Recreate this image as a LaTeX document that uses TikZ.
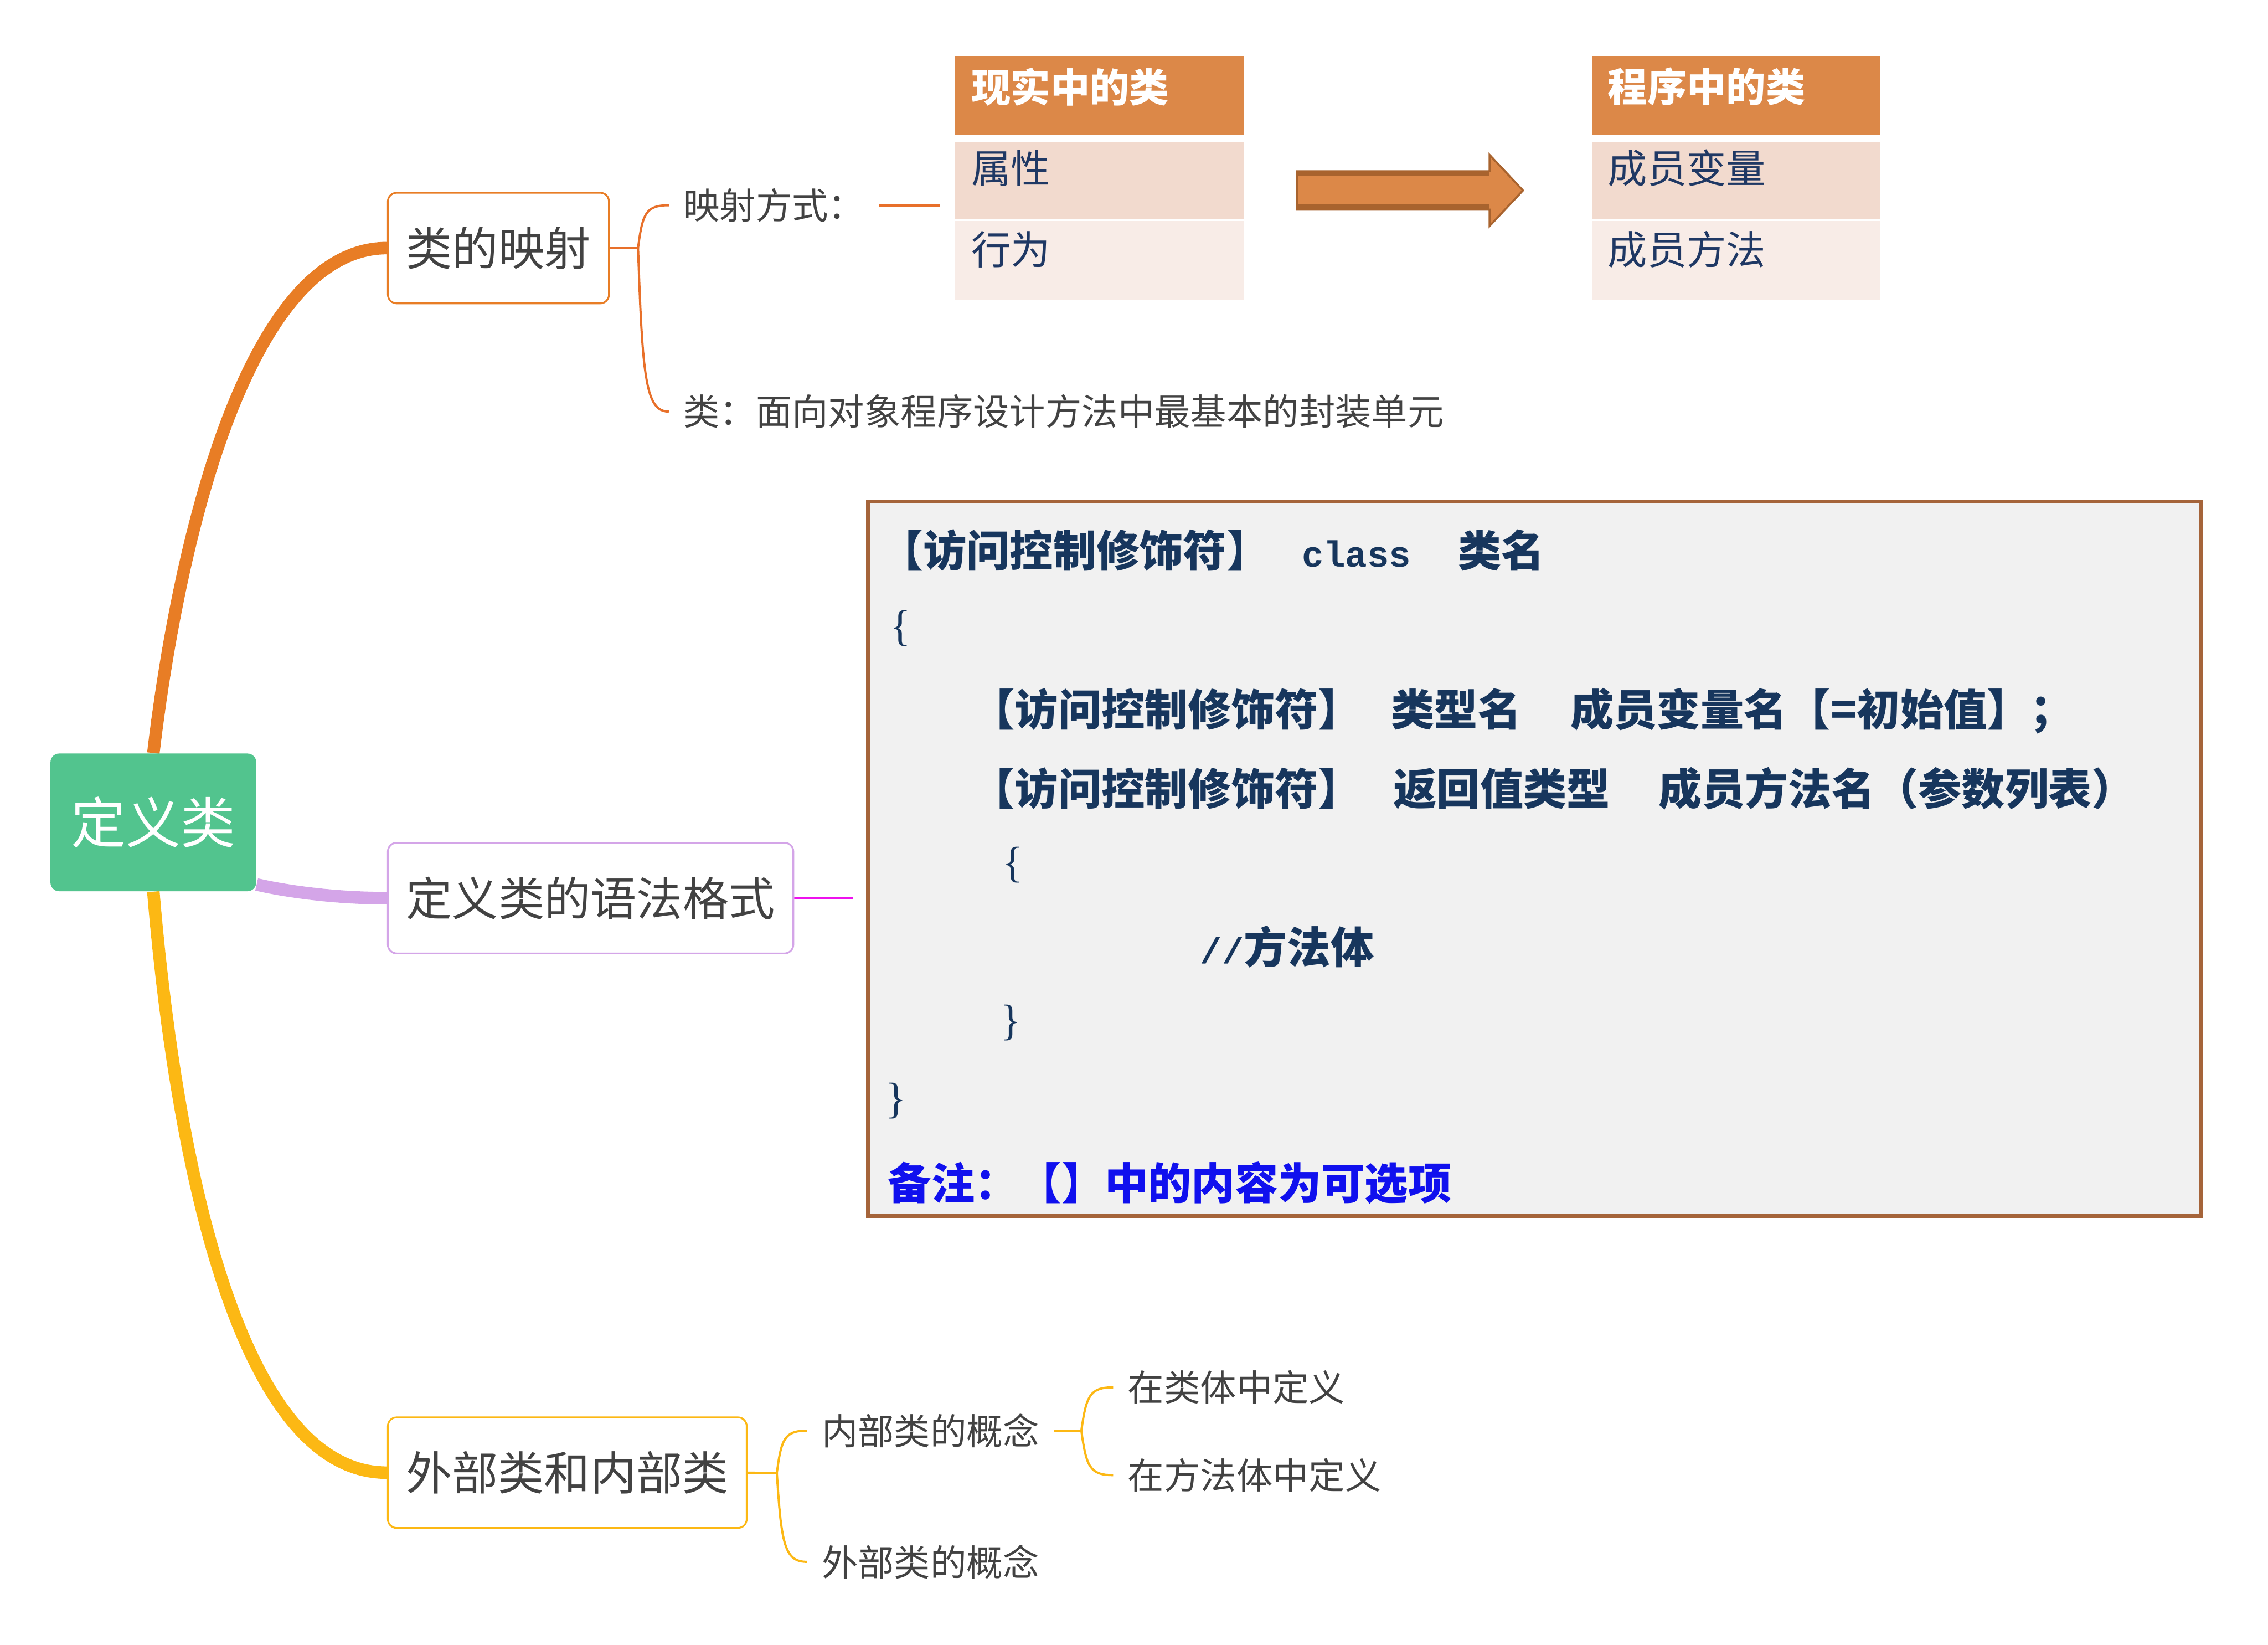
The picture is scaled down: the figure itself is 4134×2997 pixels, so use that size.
\documentclass[tikz,border=0pt]{standalone}
\usepackage{fontspec}
\setmainfont{Noto Sans CJK SC}
\newfontfamily\monof{Liberation Mono}
\newfontfamily\seriff{Liberation Serif}
\definecolor{txtgray}{HTML}{424242}
\definecolor{rootgreen}{HTML}{52C48E}
\definecolor{orA}{HTML}{E87D25}
\definecolor{orLine}{HTML}{E8702A}
\definecolor{purA}{HTML}{D4A5E8}
\definecolor{yelA}{HTML}{FCB814}
\definecolor{magL}{HTML}{EE11EE}
\definecolor{headfill}{HTML}{DC8848}
\definecolor{row1}{HTML}{F2DACE}
\definecolor{row2}{HTML}{F8ECE7}
\definecolor{navy}{HTML}{1F3864}
\definecolor{arrowdark}{HTML}{A8632E}
\definecolor{codeborder}{HTML}{A5643A}
\definecolor{codefill}{HTML}{F1F1F1}
\definecolor{codeblue}{HTML}{17365D}
\definecolor{noteblue}{HTML}{1010EE}
\pgfdeclarelayer{bg}
\pgfsetlayers{bg,main}
\begin{document}
\begin{tikzpicture}[x=0.25pt,y=-0.25pt,
  thickconn/.style={line width=5.7pt},
  thinconn/.style={line width=1pt},
  mainbox/.style={draw, fill=white, rounded corners=4pt, line width=0.8pt, inner sep=0pt,
    text=txtgray, font=\fontsize{21pt}{25pt}\selectfont, minimum height=50.4pt},
  subtext/.style={anchor=west, inner xsep=6.5pt, inner ysep=0pt, text=txtgray,
    font=\fontsize{16.5pt}{20pt}\selectfont},
  cellbox/.style={inner sep=0pt, minimum width=131.5pt},
  celltext/.style={anchor=west, inner sep=0pt, font=\fontsize{18pt}{22pt}\selectfont},
  codetext/.style={anchor=base west, inner sep=0pt, text=codeblue,
    font=\fontsize{19.75pt}{24pt}\selectfont\bfseries},
  bracetext/.style={anchor=base west, inner sep=0pt, text=codeblue,
    font=\seriff\fontsize{19.75pt}{24pt}\selectfont},
]
\path[use as bounding box] (0,0) rectangle (4134,2997);
\begin{pgfonlayer}{bg}
\fill[white] (0,0) rectangle (4134,2997);
\end{pgfonlayer}

% coordinates used by connectors
\coordinate (J1) at (1163,452);
\coordinate (J3) at (1416,2684);
\coordinate (J4) at (1971,2607);
\coordinate (imgL) at (1714,374);
\coordinate (codeL) at (1555,1637);

% main nodes
\node[rectangle, rounded corners=4pt, fill=rootgreen, inner sep=0pt, minimum width=93.75pt,
  minimum height=62.75pt, text=white, font=\fontsize{25pt}{30pt}\selectfont] (root) at (279.5,1498.5) {定义类};
\node[mainbox, draw=orA, minimum width=100.75pt] (b1) at (908.5,452) {类的映射};
\node[mainbox, draw=purA, minimum width=184.75pt] (b2) at (1076.5,1636.5) {定义类的语法格式};
\node[mainbox, draw=yelA, minimum width=163.5pt] (b3) at (1034,2683.5) {外部类和内部类};

% thick connectors (behind the boxes)
\begin{pgfonlayer}{bg}
\draw[thickconn, orA] (root.north) .. controls (330,950) and (460,452) .. (b1.west);
\draw[thickconn, purA] (root.-31) .. controls (530,1626) and (620,1637) .. (b2.west);
\draw[thickconn, yelA] (root.south) .. controls (315,2050) and (420,2684) .. (b3.west);
\end{pgfonlayer}

% branch 1
\node[subtext] (t11) at (1219,374) {映射方式：};
\node[subtext] (t12) at (1219,750) {类：面向对象程序设计方法中最基本的封装单元};
\draw[thinconn, orLine] (b1.east) -- (J1);
\draw[thinconn, orLine] (J1) .. controls +(8,-63) and +(-42,0) .. (t11.west);
\draw[thinconn, orLine] (J1) .. controls +(8,238) and +(-42,0) .. (t12.west);
\draw[thinconn, orLine] (t11.east) -- (imgL);

% tables
\node[cellbox, fill=headfill, minimum height=36pt] (h1) at (2004,174) {};
\node[cellbox, fill=row1, minimum height=35.25pt] (r11) at (2004,328.5) {};
\node[cellbox, fill=row2, minimum height=35.75pt] (r12) at (2004,474.5) {};
\node[cellbox, fill=headfill, minimum height=36pt] (h2) at (3164.5,174) {};
\node[cellbox, fill=row1, minimum height=35.25pt] (r21) at (3164.5,328.5) {};
\node[cellbox, fill=row2, minimum height=35.75pt] (r22) at (3164.5,474.5) {};
\node[celltext, text=white, font=\fontsize{18pt}{22pt}\selectfont\bfseries] (h1t) at (1770,158) {现实中的类};
\node[celltext, text=navy] (r11t) at (1770,306) {属性};
\node[celltext, text=navy] (r12t) at (1770,455) {行为};
\node[celltext, text=white, font=\fontsize{18pt}{22pt}\selectfont\bfseries] (h2t) at (2930,158) {程序中的类};
\node[celltext, text=navy] (r21t) at (2930,306) {成员变量};
\node[celltext, text=navy] (r22t) at (2930,455) {成员方法};

% block arrow
\fill[headfill] (2364,312) -- (2715,312) -- (2715,282) -- (2776,347) -- (2715,412) -- (2715,382) -- (2364,382) -- cycle;
\fill[arrowdark] (2364,312) rectangle (2715,321);
\fill[arrowdark] (2364,372) rectangle (2715,382);
\draw[arrowdark, line width=0.9pt, line join=miter] (2364,312) -- (2715,312) -- (2715,282) -- (2776,347) -- (2715,412) -- (2715,382) -- (2364,382) -- cycle;

% branch 2: code box
\draw[thinconn, magL] (b2.east) -- (codeL);
\node[rectangle, draw=codeborder, fill=codefill, line width=1.75pt, inner sep=0pt,
  minimum width=607.25pt, minimum height=325.5pt] (cb) at (2796.5,1565) {};
\node[codetext] (c1) at (1603,1033) {【访问控制修饰符】\hspace{14.5pt}{\monof\fontsize{16.6pt}{20pt}\selectfont class}\hspace{21.5pt}类名};
\node[bracetext] (c2) at (1622,1167) {\{};
\node[codetext] (c3) at (1770,1323) {【访问控制修饰符】\hspace{13.5pt}类型名\hspace{22.5pt}成员变量名【=初始值】；};
\node[codetext] (c4) at (1770,1467) {【访问控制修饰符】\hspace{14.5pt}返回值类型\hspace{22pt}成员方法名（参数列表）};
\node[bracetext] (c5) at (1826,1598) {\{};
\node[codetext] (c6) at (2187,1756) {{\monof\fontsize{16.6pt}{20pt}\selectfont //}方法体};
\node[bracetext] (c7) at (1822,1886) {\}};
\node[bracetext] (c8) at (1614,2028) {\}};
\node[codetext, text=noteblue] (c9) at (1618,2186) {备注：【】中的内容为可选项};

% branch 3
\node[subtext] (t31) at (1471,2607) {内部类的概念};
\node[subtext] (t32) at (1471,2846) {外部类的概念};
\node[subtext] (t41) at (2029,2528) {在类体中定义};
\node[subtext] (t42) at (2029,2688) {在方法体中定义};
\draw[thinconn, yelA] (b3.east) -- (J3);
\draw[thinconn, yelA] (J3) .. controls +(8,-62) and +(-41,0) .. (t31.west);
\draw[thinconn, yelA] (J3) .. controls +(8,130) and +(-41,0) .. (t32.west);
\draw[thinconn, yelA] (t31.east) -- (J4);
\draw[thinconn, yelA] (J4) .. controls +(9,-63) and +(-43,0) .. (t41.west);
\draw[thinconn, yelA] (J4) .. controls +(9,65) and +(-43,0) .. (t42.west);
\end{tikzpicture}
\end{document}
